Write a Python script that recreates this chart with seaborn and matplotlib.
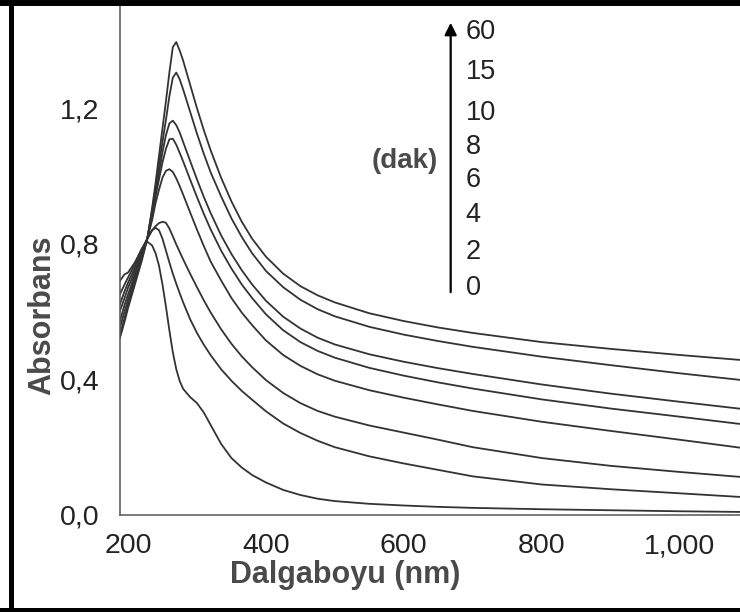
"""UV-Vis absorbance spectra recorded at increasing reaction times (dak)."""

import matplotlib

matplotlib.use("Agg")
import matplotlib.pyplot as plt
import pandas as pd
import seaborn as sns
from matplotlib.lines import Line2D
from matplotlib.ticker import FixedLocator

# wavelength grid shared by all spectra (nm)
WAVELENGTH = [188, 195, 200, 210, 220, 228, 235, 240, 245, 250, 255, 260, 265,
              270, 275, 280, 290, 300, 310, 320, 335, 350, 365, 380, 400, 425,
              450, 475, 500, 550, 600, 650, 700, 800, 900, 1000, 1090]

# absorbance, one list per time point
ABS_0 = [0.69, 0.71, 0.715, 0.745, 0.785, 0.806, 0.795, 0.772, 0.735, 0.68, 0.615,
         0.545, 0.48, 0.43, 0.395, 0.372, 0.348, 0.33, 0.302, 0.265, 0.21, 0.168,
         0.14, 0.118, 0.096, 0.074, 0.059, 0.048, 0.041, 0.033, 0.028, 0.024,
         0.021, 0.017, 0.014, 0.011, 0.009]
ABS_2 = [0.65, 0.68, 0.70, 0.74, 0.785, 0.815, 0.84, 0.847, 0.84, 0.815, 0.78,
         0.745, 0.712, 0.682, 0.654, 0.627, 0.578, 0.537, 0.502, 0.471, 0.43, 0.396,
         0.366, 0.34, 0.306, 0.27, 0.242, 0.219, 0.2, 0.173, 0.152, 0.133,
         0.114, 0.09, 0.076, 0.064, 0.053]
ABS_4 = [0.62, 0.66, 0.685, 0.73, 0.78, 0.815, 0.84, 0.852, 0.861, 0.865, 0.862,
         0.845, 0.822, 0.798, 0.776, 0.754, 0.712, 0.672, 0.633, 0.597, 0.548, 0.505,
         0.468, 0.436, 0.398, 0.36, 0.33, 0.307, 0.29, 0.264, 0.243, 0.222,
         0.2, 0.168, 0.145, 0.127, 0.112]
ABS_6 = [0.60, 0.64, 0.67, 0.72, 0.77, 0.815, 0.87, 0.92, 0.96, 0.995, 1.015,
         1.02, 1.012, 0.993, 0.97, 0.945, 0.893, 0.842, 0.793, 0.747, 0.692, 0.64,
         0.597, 0.56, 0.515, 0.472, 0.44, 0.415, 0.396, 0.368, 0.346, 0.326,
         0.307, 0.275, 0.248, 0.222, 0.198]
ABS_8 = [0.57, 0.62, 0.65, 0.71, 0.765, 0.815, 0.885, 0.94, 0.99, 1.04, 1.08,
         1.108, 1.11, 1.092, 1.068, 1.043, 0.99, 0.938, 0.888, 0.842, 0.78, 0.727,
         0.68, 0.64, 0.592, 0.545, 0.51, 0.484, 0.464, 0.434, 0.411, 0.391, 0.373,
         0.341, 0.314, 0.29, 0.268]
ABS_10 = [0.55, 0.60, 0.635, 0.70, 0.76, 0.815, 0.89, 0.95, 1.01, 1.07, 1.12,
          1.155, 1.163, 1.15, 1.128, 1.10, 1.045, 0.99, 0.938, 0.89, 0.825, 0.77,
          0.722, 0.68, 0.632, 0.585, 0.55, 0.523, 0.503, 0.474, 0.452, 0.433, 0.416,
          0.385, 0.358, 0.334, 0.313]
ABS_15 = [0.53, 0.58, 0.62, 0.69, 0.755, 0.815, 0.90, 0.965, 1.035, 1.10, 1.165,
          1.235, 1.29, 1.305, 1.285, 1.255, 1.19, 1.125, 1.065, 1.01, 0.94, 0.875,
          0.82, 0.772, 0.72, 0.672, 0.635, 0.607, 0.586, 0.555, 0.532, 0.513, 0.496,
          0.467, 0.442, 0.418, 0.398]
ABS_60 = [0.52, 0.57, 0.61, 0.68, 0.75, 0.815, 0.905, 0.98, 1.06, 1.14, 1.22,
          1.305, 1.38, 1.395, 1.37, 1.34, 1.27, 1.20, 1.135, 1.075, 0.995, 0.925,
          0.865, 0.815, 0.762, 0.712, 0.675, 0.648, 0.627, 0.595, 0.572, 0.553,
          0.537, 0.51, 0.49, 0.472, 0.457]

TIMES = ["0", "2", "4", "6", "8", "10", "15", "60"]
SPECTRA = [ABS_0, ABS_2, ABS_4, ABS_6, ABS_8, ABS_10, ABS_15, ABS_60]

X_TICKS = [200, 400, 600, 800, 1000]
X_TICK_LABELS = ["200", "400", "600", "800", "1,000"]
Y_TICKS = [0.0, 0.4, 0.8, 1.2]
Y_TICK_LABELS = ["0,0", "0,4", "0,8", "1,2"]
TIME_LABEL_Y = [0.670, 0.776, 0.885, 0.988, 1.086, 1.186, 1.307, 1.425]

LINE_COLOR = "#333333"
AXIS_COLOR = "#555555"
LABEL_COLOR = "#4a4a4a"


def build_frame() -> pd.DataFrame:
    """Long-form table of all spectra."""

    frames = []
    for time, values in zip(TIMES, SPECTRA):
        frames.append(pd.DataFrame({"wavelength": WAVELENGTH, "absorbance": values, "time": time}))
    return pd.concat(frames, ignore_index=True)


def main() -> None:
    sns.set_theme(style="white")
    plt.rcParams["font.family"] = ["Liberation Sans", "DejaVu Sans"]

    data = build_frame()
    fig = plt.figure(figsize=(7.4, 6.12), dpi=100)
    ax = fig.add_axes([120 / 740, 97 / 612, 620 / 740, 515 / 612])

    sns.lineplot(
        data=data,
        x="wavelength",
        y="absorbance",
        hue="time",
        palette={t: LINE_COLOR for t in TIMES},
        estimator=None,
        linewidth=1.3,
        legend=False,
        ax=ax,
    )

    ax.set_xlim(188.4, 1087.6)
    ax.set_ylim(0, 1.519)
    ax.set_xticks(X_TICKS, X_TICK_LABELS)
    ax.set_yticks(Y_TICKS, Y_TICK_LABELS)
    ax.xaxis.set_minor_locator(FixedLocator([300, 500, 700, 900]))
    ax.yaxis.set_minor_locator(FixedLocator([0.2, 0.6, 1.0, 1.4]))

    for side in ("top", "right"):
        ax.spines[side].set_visible(False)
    for side in ("left", "bottom"):
        ax.spines[side].set_color(AXIS_COLOR)
        ax.spines[side].set_linewidth(1.1)

    ax.tick_params(axis="both", which="both", direction="out", color=AXIS_COLOR,
                   width=1.1, labelsize=20.5, labelcolor="#222222")
    ax.tick_params(axis="y", which="major", length=9, pad=6)
    ax.tick_params(axis="y", which="minor", length=5)
    ax.tick_params(axis="x", which="major", length=6, pad=7)
    ax.tick_params(axis="x", which="minor", length=5)

    ax.set_xlabel("Dalgaboyu (nm)", fontsize=22, fontweight="bold", color=LABEL_COLOR)
    ax.set_ylabel("Absorbans", fontsize=22, fontweight="bold", color=LABEL_COLOR)
    ax.xaxis.set_label_coords((345 - 120) / 620, (515 - 560) / 515)
    ax.yaxis.set_label_coords((57 - 120) / 620, (515 - 315) / 515)

    # time arrow with the minute labels
    ax.annotate(
        "",
        xy=(668, 1.46),
        xytext=(668, 0.649),
        arrowprops=dict(arrowstyle="-|>", color="black", lw=1.6, mutation_scale=18),
    )
    for label, y in zip(TIMES, TIME_LABEL_Y):
        ax.text(690, y, label, fontsize=19.5, color="#222222", ha="left", va="center")
    ax.text(650, 1.044, "(dak)", fontsize=20, fontweight="bold", color=LABEL_COLOR,
            ha="right", va="center")

    # black frame around the picture (left, top, bottom)
    fig.add_artist(Line2D([10.5 / 740, 10.5 / 740], [0, 1], transform=fig.transFigure,
                          color="black", lw=3.6))
    fig.add_artist(Line2D([0, 1], [1 - 3 / 612, 1 - 3 / 612], transform=fig.transFigure,
                          color="black", lw=4.3))
    fig.add_artist(Line2D([0, 1], [2.5 / 612, 2.5 / 612], transform=fig.transFigure,
                          color="black", lw=3.6))

    fig.savefig("out.png", dpi=100)
    plt.close(fig)


if __name__ == "__main__":
    main()
